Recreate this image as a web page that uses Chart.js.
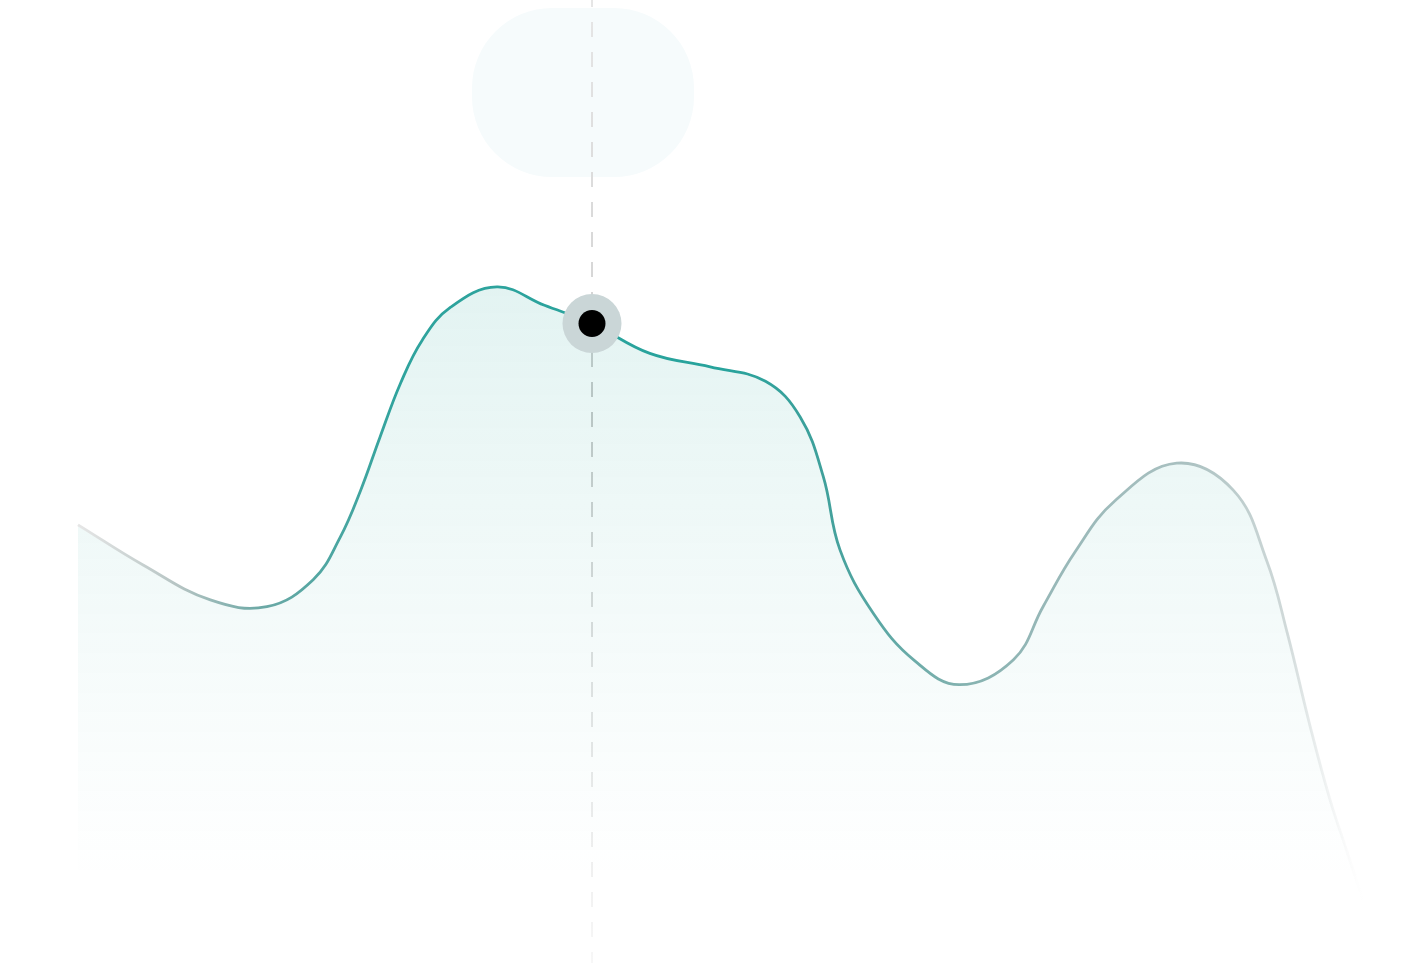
<!DOCTYPE html>
<html>
<head>
<meta charset="utf-8">
<script src="https://cdn.jsdelivr.net/npm/chart.js@4/dist/chart.umd.min.js"></script>
<style>
  html, body { margin: 0; padding: 0; background: #fff; }
  #wrap { width: 1428px; height: 963px; position: relative; }
</style>
</head>
<body>
<div id="wrap"><canvas id="trendChart"></canvas></div>
<script>
// Curve data: x position (0-100) and value (0-100) of each point
const positions = [0, 5.1, 10.3, 14.7, 18.3, 20.4, 22.0, 23.5, 25.1, 26.8, 29.0, 32.6, 36.3, 40.0,
    44.5, 49.2, 53.5, 56.2, 58.0, 59.3, 61.9, 65.1, 68.6, 72.8, 75.1, 77.6, 80.7, 85.5,
    89.9, 92.5, 94.1, 95.9, 97.4, 98.8, 100];
const values = [45.5, 41.3, 37.7, 37.0, 39.8, 44.2, 49.1, 54.6, 60.2, 64.7, 68.1, 70.2, 68.3, 66.4,
    63.3, 61.9, 60.4, 56.7, 50.5, 42.9, 36.3, 31.4, 28.9, 31.5, 37.0, 42.7, 48.0, 51.9,
    49.1, 41.8, 34.3, 24.5, 17.1, 11.4, 6.5];
const activeIndex = 13;

const points = positions.map((x, i) => ({ x: x, y: values[i] }));

// horizontal gradient for the stroke
function strokeGradient(chart) {
    const area = chart.chartArea;
    if (!area) return '#27a39c';
    const g = chart.ctx.createLinearGradient(area.left, 0, area.right, 0);
    g.addColorStop(0, '#e6e6e6');
    g.addColorStop(0.08, '#b4c3c2');
    g.addColorStop(0.14, '#6ea9a6');
    g.addColorStop(0.25, '#2fa39d');
    g.addColorStop(0.5, '#27a39c');
    g.addColorStop(0.58, '#3fa09b');
    g.addColorStop(0.69, '#85b2b0');
    g.addColorStop(0.75, '#96b7b7');
    g.addColorStop(0.86, '#a9c0c0');
    g.addColorStop(0.94, '#d0d9d9');
    g.addColorStop(1, 'rgba(240,240,240,0)');
    return g;
}

// vertical gradient for the area
function fillGradient(chart) {
    const area = chart.chartArea;
    if (!area) return 'rgba(38,166,154,0.1)';
    const g = chart.ctx.createLinearGradient(0, 288, 0, 880);
    g.addColorStop(0, 'rgba(38,166,154,0.13)');
    g.addColorStop(0.5, 'rgba(38,166,154,0.06)');
    g.addColorStop(1, 'rgba(38,166,154,0)');
    return g;
}

// Hover guide: bubble box and dashed vertical line at the active point
const hoverGuide = {
    id: 'hoverGuide',
    beforeDatasetsDraw(chart) {
        const meta = chart.getDatasetMeta(1);
        const pt = meta.data[activeIndex];
        if (!pt) return;
        const ctx = chart.ctx;
        const h = chart.height;

        // bubble
        ctx.save();
        ctx.fillStyle = '#f6fbfc';
        ctx.beginPath();
        ctx.roundRect(pt.x - 120, 8, 222, 169, 80);
        ctx.fill();
        ctx.restore();

        // dashed line
        ctx.save();
        const g = ctx.createLinearGradient(0, 0, 0, h);
        g.addColorStop(0, '#e6e6e6');
        g.addColorStop(0.3, '#d6d6d6');
        g.addColorStop(0.42, '#c8c8c8');
        g.addColorStop(0.7, '#e2e2e2');
        g.addColorStop(1, '#f7f7f7');
        ctx.strokeStyle = g;
        ctx.lineWidth = 2;
        ctx.setLineDash([15, 15]);
        ctx.lineDashOffset = 8;
        ctx.beginPath();
        ctx.moveTo(pt.x, 0);
        ctx.lineTo(pt.x, h);
        ctx.stroke();
        ctx.restore();
    }
};

new Chart(document.getElementById('trendChart'), {
    type: 'line',
    data: {
        datasets: [{
            data: [points[activeIndex]],
            showLine: false,
            pointRadius: 13.5,
            pointBackgroundColor: '#000',
            pointBorderWidth: 0,
            order: 0
        }, {
            data: points,
            tension: 0.4,
            borderWidth: 2.8,
            borderColor: ctx => strokeGradient(ctx.chart),
            backgroundColor: ctx => fillGradient(ctx.chart),
            fill: 'start',
            pointRadius: ctx => ctx.dataIndex === activeIndex ? 29.5 : 0,
            pointBackgroundColor: '#cad6d7',
            pointBorderWidth: 0,
            order: 1
        }]
    },
    options: {
        responsive: true,
        maintainAspectRatio: false,
        animation: false,
        events: [],
        clip: false,
        layout: {
            autoPadding: false,
            padding: { left: 78, right: 65, top: 0, bottom: 0 }
        },
        plugins: {
            legend: { display: false },
            tooltip: { enabled: false }
        },
        scales: {
            x: { type: 'linear', min: 0, max: 100, display: false },
            y: { min: 0, max: 100, display: false }
        }
    },
    plugins: [hoverGuide]
});
</script>
</body>
</html>
